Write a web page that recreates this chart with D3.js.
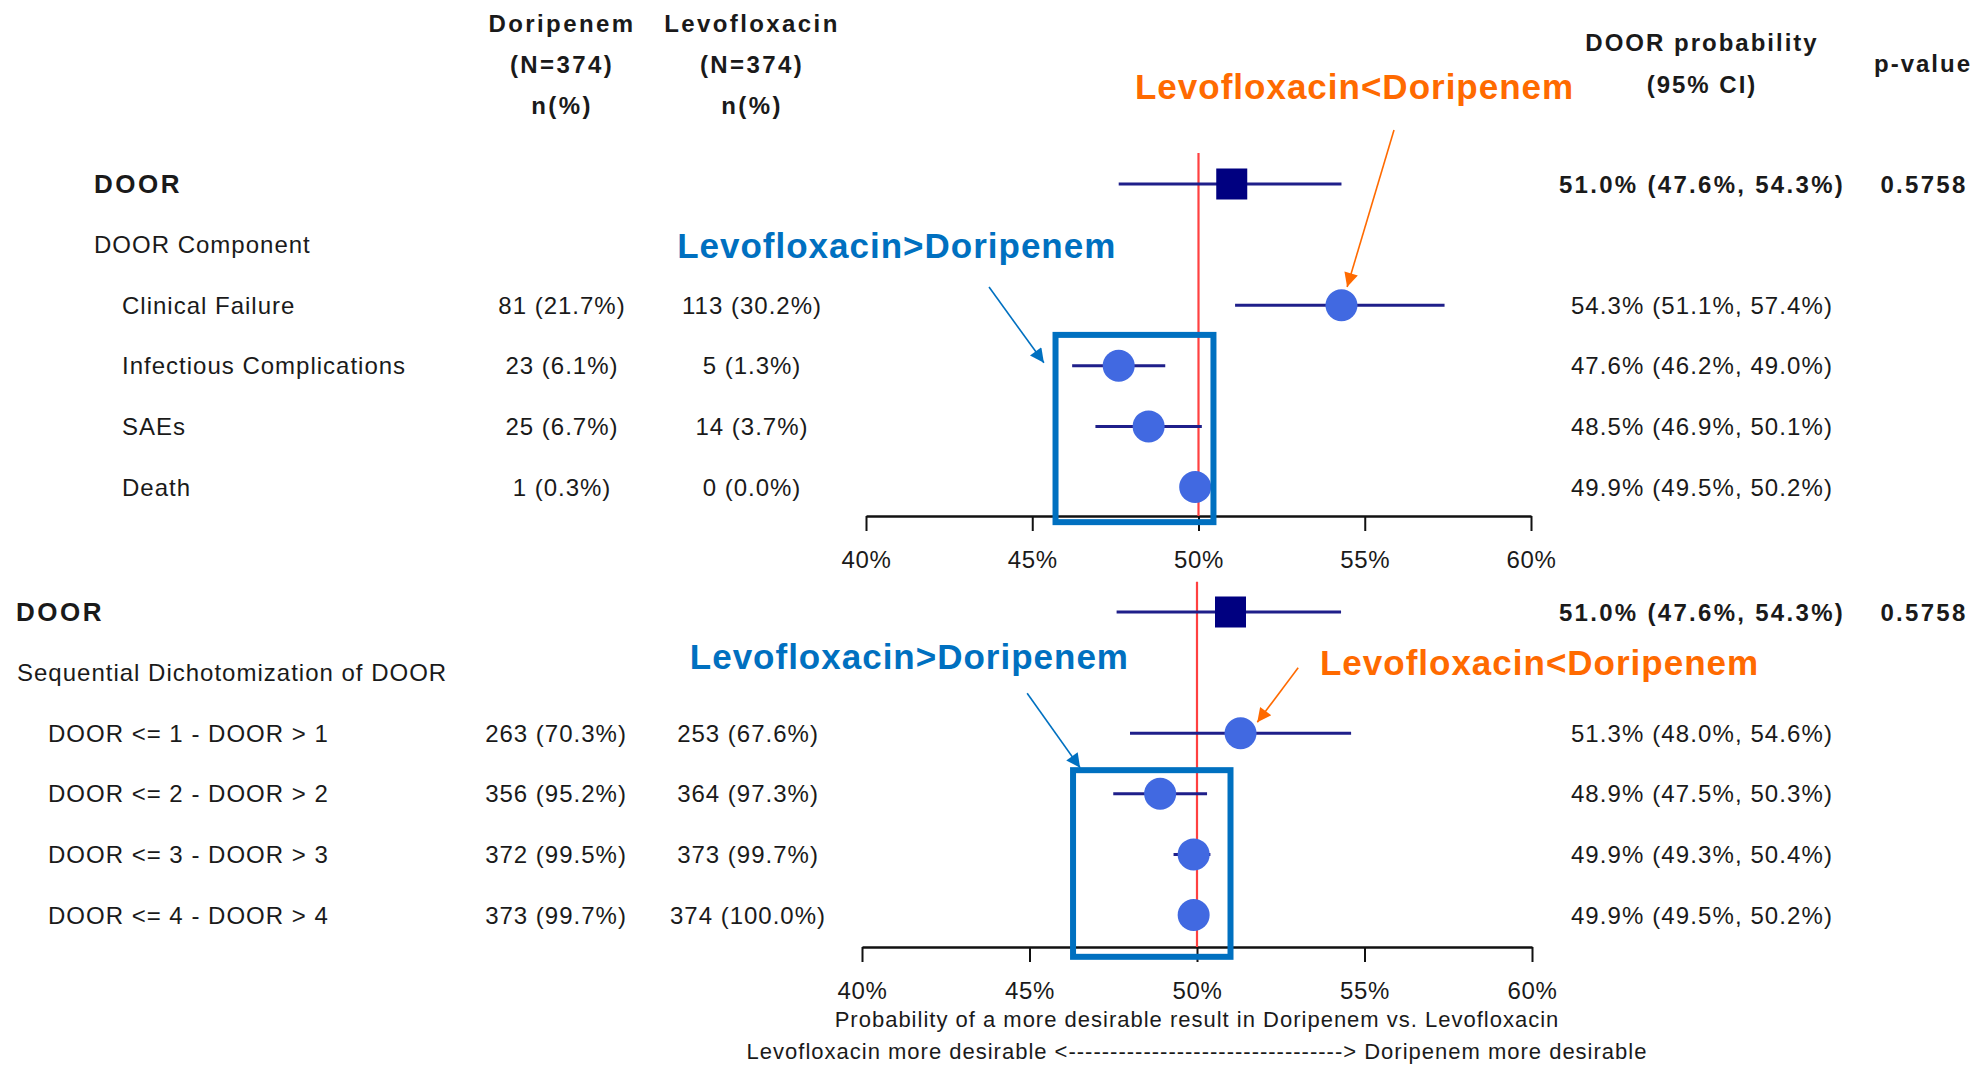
<!DOCTYPE html>
<html><head><meta charset="utf-8">
<script src="https://cdn.jsdelivr.net/npm/d3@7"></script>
<style>
html,body{margin:0;padding:0;background:#fff;}
svg{display:block;}
text{font-family:"Liberation Sans",Arial,Helvetica,sans-serif;fill:#1a1a1a;}
</style></head><body>
<svg id="chart" width="1977" height="1065"></svg>
<script>
// ---------------- DATA ----------------
const tickValues = [40, 45, 50, 55, 60];

const topLabels = ["DOOR", "DOOR Component", "Clinical Failure", "Infectious Complications", "SAEs", "Death"];
const topDoripenem = ["", "", "81 (21.7%)", "23 (6.1%)", "25 (6.7%)", "1 (0.3%)"];
const topLevofloxacin = ["", "", "113 (30.2%)", "5 (1.3%)", "14 (3.7%)", "0 (0.0%)"];
const topEstimate = [51.0, null, 54.3, 47.6, 48.5, 49.9];
const topLower = [47.6, null, 51.1, 46.2, 46.9, 49.5];
const topUpper = [54.3, null, 57.4, 49.0, 50.1, 50.2];
const topPValue = ["0.5758", "", "", "", "", ""];

const botLabels = ["DOOR", "Sequential Dichotomization of DOOR", "DOOR <= 1 - DOOR > 1", "DOOR <= 2 - DOOR > 2", "DOOR <= 3 - DOOR > 3", "DOOR <= 4 - DOOR > 4"];
const botDoripenem = ["", "", "263 (70.3%)", "356 (95.2%)", "372 (99.5%)", "373 (99.7%)"];
const botLevofloxacin = ["", "", "253 (67.6%)", "364 (97.3%)", "373 (99.7%)", "374 (100.0%)"];
const botEstimate = [51.0, null, 51.3, 48.9, 49.9, 49.9];
const botLower = [47.6, null, 48.0, 47.5, 49.3, 49.5];
const botUpper = [54.3, null, 54.6, 50.3, 50.4, 50.2];
const botPValue = ["0.5758", "", "", "", "", ""];

const headerDrugs = ["Doripenem", "Levofloxacin"];
const headerN = ["(N=374)", "(N=374)"];

// ---------------- LAYOUT ----------------
const svg = d3.select("#chart");
const navy = "#000080", lineNavy = "#1f1f8a", dotBlue = "#4169E1";
const annBlue = "#0070C0", annOrange = "#FF6A00", refRed = "#ff4040";
const REG = 24;

svg.append("defs").selectAll("marker")
  .data([["arrBlue", annBlue], ["arrOrange", annOrange]])
  .join("marker")
  .attr("id", d => d[0]).attr("viewBox", "0 0 10 10")
  .attr("refX", 10).attr("refY", 5)
  .attr("markerWidth", 17).attr("markerHeight", 14)
  .attr("markerUnits", "userSpaceOnUse").attr("orient", "auto")
  .append("path").attr("d", "M0,0 L10,5 L0,10 z").attr("fill", d => d[1]);

// header
const hdr = svg.append("g");
const drugCx = [562, 752];
hdr.selectAll(".hd").data(headerDrugs).join("text")
  .attr("x", (d, i) => drugCx[i]).attr("y", 32).attr("text-anchor", "middle")
  .attr("font-size", 24).attr("font-weight", "bold").attr("letter-spacing", 2.4).text(d => d);
hdr.selectAll(".hn").data(headerN).join("text")
  .attr("x", (d, i) => drugCx[i]).attr("y", 73).attr("text-anchor", "middle")
  .attr("font-size", 24).attr("font-weight", "bold").attr("letter-spacing", 2.4).text(d => d);
hdr.selectAll(".hp").data(headerN).join("text")
  .attr("x", (d, i) => drugCx[i]).attr("y", 114).attr("text-anchor", "middle")
  .attr("font-size", 24).attr("font-weight", "bold").attr("letter-spacing", 2.4).text("n(%)");
hdr.append("text").attr("x", 1702).attr("y", 51).attr("text-anchor", "middle")
  .attr("font-size", 24).attr("font-weight", "bold").attr("letter-spacing", 2).text("DOOR probability");
hdr.append("text").attr("x", 1702).attr("y", 93).attr("text-anchor", "middle")
  .attr("font-size", 24).attr("font-weight", "bold").attr("letter-spacing", 2).text("(95% CI)");
hdr.append("text").attr("x", 1923).attr("y", 72).attr("text-anchor", "middle")
  .attr("font-size", 24).attr("font-weight", "bold").attr("letter-spacing", 2).text("p-value");

function drawPanel(cfg) {
  const g = svg.append("g");
  const x = d3.scaleLinear().domain([40, 60]).range(cfg.xRange);
  const y = d3.scaleLinear().domain([0, 5]).range(cfg.yRange);
  const rows = d3.range(cfg.labels.length);

  // labels
  g.selectAll(".lab").data(rows).join("text")
    .attr("x", i => cfg.labelX[i]).attr("y", i => y(i)).attr("dy", "0.36em")
    .attr("font-size", i => i === 0 ? 26 : REG)
    .attr("font-weight", i => i === 0 ? "bold" : "normal")
    .attr("letter-spacing", i => i === 0 ? 2.5 : 1)
    .text(i => cfg.labels[i]);
  // count columns
  [[cfg.dori, cfg.colX[0]], [cfg.levo, cfg.colX[1]]].forEach(([arr, cx]) => {
    g.selectAll(null).data(rows.filter(i => arr[i])).join("text")
      .attr("x", cx).attr("y", i => y(i)).attr("dy", "0.36em").attr("text-anchor", "middle")
      .attr("font-size", REG).attr("letter-spacing", 1).text(i => arr[i]);
  });
  // CI text
  const ciRows = rows.filter(i => cfg.est[i] != null);
  g.selectAll(".ci").data(ciRows).join("text")
    .attr("x", 1702).attr("y", i => y(i)).attr("dy", "0.36em").attr("text-anchor", "middle")
    .attr("font-size", REG)
    .attr("font-weight", i => i === 0 ? "bold" : "normal")
    .attr("letter-spacing", i => i === 0 ? 2.3 : 1.1)
    .text(i => `${cfg.est[i].toFixed(1)}% (${cfg.lo[i].toFixed(1)}%, ${cfg.hi[i].toFixed(1)}%)`);
  g.selectAll(".pv").data(rows.filter(i => cfg.p[i])).join("text")
    .attr("x", 1924).attr("y", i => y(i)).attr("dy", "0.36em").attr("text-anchor", "middle")
    .attr("font-size", REG).attr("font-weight", "bold").attr("letter-spacing", 2.3)
    .text(i => cfg.p[i]);

  // axis
  const ax = g.append("g").attr("transform", `translate(0,${cfg.axisY})`)
    .call(d3.axisBottom(x).tickValues(tickValues).tickFormat(d => d + "%")
      .tickSize(15).tickSizeOuter(0).tickPadding(20));
  ax.select(".domain").attr("stroke", "#111").attr("stroke-width", 2.5);
  ax.selectAll(".tick line").attr("stroke", "#111").attr("stroke-width", 2);
  ax.selectAll(".tick text").attr("font-size", REG).attr("letter-spacing", 0.6)
    .attr("fill", "#1a1a1a").attr("font-family", '"Liberation Sans",Arial,sans-serif');

  // reference line
  g.append("line").attr("x1", x(50)).attr("x2", x(50))
    .attr("y1", y(cfg.refTop)).attr("y2", cfg.axisY)
    .attr("stroke", refRed).attr("stroke-width", 2.2);

  // CI lines
  g.selectAll(".cil").data(ciRows).join("line")
    .attr("x1", i => x(cfg.lo[i])).attr("x2", i => x(cfg.hi[i]))
    .attr("y1", i => y(i)).attr("y2", i => y(i))
    .attr("stroke", lineNavy).attr("stroke-width", 3);
  // markers
  g.selectAll(".sq").data(ciRows.filter(i => i === 0)).join("rect")
    .attr("x", i => x(cfg.est[i]) - 15.5).attr("y", i => y(i) - 15.5)
    .attr("width", 31).attr("height", 31).attr("fill", navy);
  g.selectAll(".dot").data(ciRows.filter(i => i > 0)).join("circle")
    .attr("cx", i => x(cfg.est[i])).attr("cy", i => y(i)).attr("r", 16).attr("fill", dotBlue);

  // annotations
  const b = cfg.box;
  g.append("rect").attr("x", x(b[0])).attr("y", y(b[2]))
    .attr("width", x(b[1]) - x(b[0])).attr("height", y(b[3]) - y(b[2]))
    .attr("fill", "none").attr("stroke", annBlue).attr("stroke-width", 6);
  cfg.arrows.forEach(a => {
    g.append("line").attr("x1", x(a.from[0])).attr("y1", y(a.from[1]))
      .attr("x2", x(a.to[0])).attr("y2", y(a.to[1]))
      .attr("stroke", a.color).attr("stroke-width", 1.6)
      .attr("marker-end", `url(#${a.marker})`);
  });
  cfg.notes.forEach(n => {
    g.append("text").attr("x", x(n.at[0])).attr("y", y(n.at[1]))
      .attr("font-size", 35).attr("font-weight", "bold").attr("letter-spacing", 1)
      .style("fill", n.color).text(n.text);
  });
  return x;
}

drawPanel({
  labels: topLabels, dori: topDoripenem, levo: topLevofloxacin,
  est: topEstimate, lo: topLower, hi: topUpper, p: topPValue,
  xRange: [866, 1531], yRange: [184, 487], axisY: 516, refTop: -0.51,
  labelX: [94, 94, 122, 122, 122, 122], colX: [562, 752],
  box: [45.7, 50.45, 2.49, 5.58],
  arrows: [
    {from: [55.88, -0.89], to: [54.47, 1.70], color: annOrange, marker: "arrOrange"},
    {from: [43.70, 1.70], to: [45.35, 2.95], color: annBlue, marker: "arrBlue"}
  ],
  notes: [
    {text: "Levofloxacin<Doripenem", at: [48.09, -1.40], color: annOrange},
    {text: "Levofloxacin>Doripenem", at: [34.32, 1.22], color: annBlue}
  ]
});

const xb = drawPanel({
  labels: botLabels, dori: botDoripenem, levo: botLevofloxacin,
  est: botEstimate, lo: botLower, hi: botUpper, p: botPValue,
  xRange: [862, 1532], yRange: [612, 915], axisY: 947, refTop: -0.5,
  labelX: [16, 17, 48, 48, 48, 48], colX: [556, 748],
  box: [46.3, 51.0, 2.61, 5.69],
  arrows: [
    {from: [53.02, 0.92], to: [51.80, 1.82], color: annOrange, marker: "arrOrange"},
    {from: [44.93, 1.34], to: [46.51, 2.57], color: annBlue, marker: "arrBlue"}
  ],
  notes: [
    {text: "Levofloxacin<Doripenem", at: [53.67, 1.04], color: annOrange},
    {text: "Levofloxacin>Doripenem", at: [34.86, 0.94], color: annBlue}
  ]
});

// axis titles
svg.append("text").attr("x", xb(50)).attr("y", 1027).attr("text-anchor", "middle")
  .attr("font-size", 22).attr("letter-spacing", 1)
  .text("Probability of a more desirable result in Doripenem vs. Levofloxacin");
svg.append("text").attr("x", xb(50)).attr("y", 1059).attr("text-anchor", "middle")
  .attr("font-size", 22).attr("letter-spacing", 1)
  .text("Levofloxacin more desirable <" + "-".repeat(33) + "> Doripenem more desirable");
</script>
</body></html>
